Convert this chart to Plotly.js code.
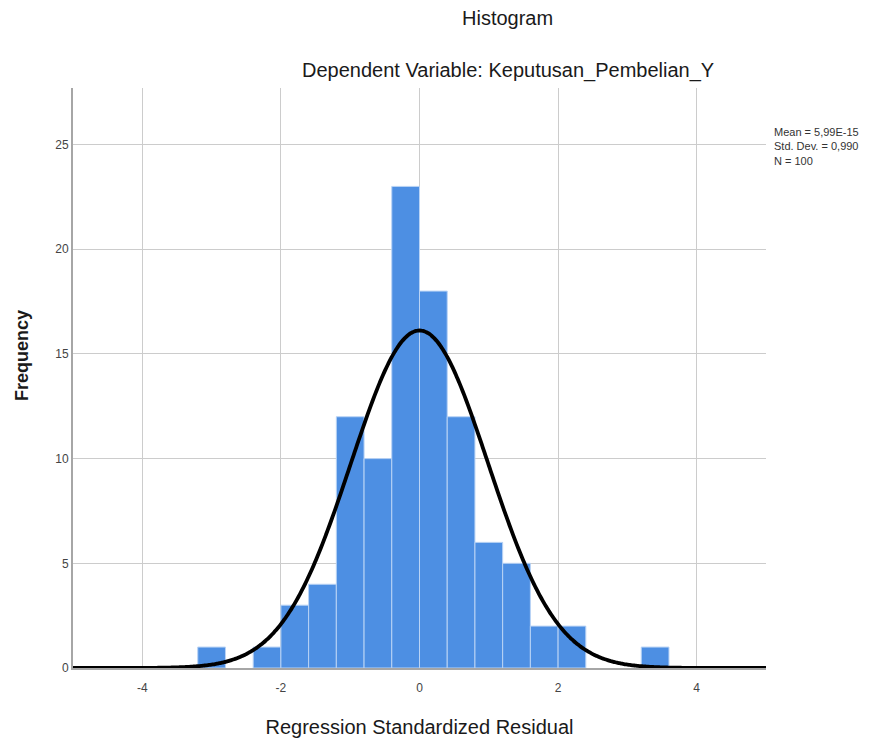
<!DOCTYPE html>
<html>
<head>
<meta charset="utf-8">
<script src="https://cdn.plot.ly/plotly-3.0.1.min.js"></script>
<style>html,body{margin:0;padding:0;background:#fff;}#chart{width:879px;height:749px;}</style>
</head>
<body>
<div id="chart"></div>
<script>
// Histogram bins (left edge) and frequencies
const binStarts = [-3.2, -2.4, -2.0, -1.6, -1.2, -0.8, -0.4, 0.0, 0.4, 0.8, 1.2, 1.6, 2.0, 3.2];
const binWidth = 0.4;
const frequencies = [1, 1, 3, 4, 12, 10, 23, 18, 12, 6, 5, 2, 2, 1];

// Summary statistics shown in the chart
const MEAN = 5.99e-15;
const STD_DEV = 0.990;
const N = 100;

const xTicks = [-4, -2, 0, 2, 4];
const yTicks = [0, 5, 10, 15, 20, 25];

const binCenters = binStarts.map(s => s + binWidth / 2);

// Fitted normal curve (SPSS overlay) from the displayed Mean, Std. Dev. and N
const curveX = [];
const curveY = [];
for (let i = 0; i <= 400; i++) {
  const x = -5 + i * 0.025;
  curveX.push(x);
  const z = (x - MEAN) / STD_DEV;
  curveY.push(N * binWidth * Math.exp(-0.5 * z * z) / (STD_DEV * Math.sqrt(2 * Math.PI)));
}

const font = "'Liberation Sans Narrow', 'Liberation Sans', Arial, sans-serif";

const data = [
  {
    type: 'bar',
    x: binCenters,
    y: frequencies,
    width: binWidth,
    marker: {color: '#4d8fe3', line: {color: '#b9d3f5', width: 1}},
    hoverinfo: 'x+y',
    showlegend: false
  },
  {
    type: 'scatter',
    mode: 'lines',
    x: curveX,
    y: curveY,
    line: {color: '#000000', width: 3.8, shape: 'spline'},
    hoverinfo: 'skip',
    showlegend: false
  }
];

const layout = {
  width: 879,
  height: 749,
  paper_bgcolor: '#ffffff',
  plot_bgcolor: '#ffffff',
  margin: {l: 73, r: 113, t: 88, b: 81},
  bargap: 0,
  xaxis: {
    range: [-5, 5],
    tickvals: xTicks,
    ticktext: xTicks.map(String),
    showgrid: true,
    gridcolor: '#cccccc',
    gridwidth: 1,
    zeroline: false,
    showline: true,
    linecolor: '#a6a6a6',
    linewidth: 2,
    ticks: '',
    ticklabelstandoff: 8,
    tickfont: {family: font, size: 12, color: '#444444'},
    title: {text: 'Regression Standardized Residual', font: {family: font, size: 20, color: '#1a1a1a'}, standoff: 26},
    fixedrange: true
  },
  yaxis: {
    range: [0, 27.7],
    tickvals: yTicks,
    ticktext: yTicks.map(String),
    showgrid: true,
    gridcolor: '#cccccc',
    gridwidth: 1,
    zeroline: false,
    showline: true,
    linecolor: '#a6a6a6',
    linewidth: 2,
    ticks: '',
    tickfont: {family: font, size: 12, color: '#444444'},
    fixedrange: true
  },
  annotations: [
    {
      text: 'Histogram', xref: 'paper', yref: 'paper',
      x: 0.627, y: 1, yshift: 70, xanchor: 'center', yanchor: 'middle',
      showarrow: false, font: {family: font, size: 20, color: '#1a1a1a'}
    },
    {
      text: 'Dependent Variable: Keputusan_Pembelian_Y', xref: 'paper', yref: 'paper',
      x: 0.627, y: 1, yshift: 18, xanchor: 'center', yanchor: 'middle',
      showarrow: false, font: {family: font, size: 20, color: '#1a1a1a'}
    },
    {
      text: '<b>Frequency</b>', xref: 'paper', yref: 'paper',
      x: 0, xshift: -51, y: (668 - 356) / 580, xanchor: 'center', yanchor: 'middle',
      textangle: -90, showarrow: false,
      font: {family: "'Liberation Sans', Arial, sans-serif", size: 18, color: '#1a1a1a'}
    },
    {
      text: 'Mean = 5,99E-15<br>Std. Dev. = 0,990<br>N = 100', xref: 'paper', yref: 'paper',
      x: 1, xshift: 6, y: (668 - 146) / 580, xanchor: 'left', yanchor: 'middle', align: 'left',
      showarrow: false, font: {family: font, size: 11, color: '#333333'}
    }
  ]
};

Plotly.newPlot('chart', data, layout, {displayModeBar: false, staticPlot: true});
</script>
</body>
</html>
